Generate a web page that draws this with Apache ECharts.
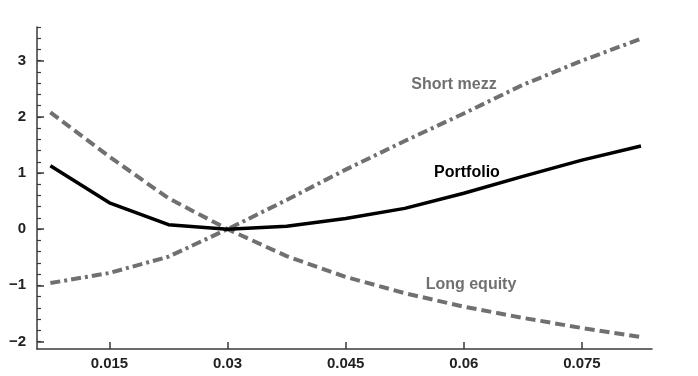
<!DOCTYPE html>
<html>
<head>
<meta charset="utf-8">
<script src="https://cdn.jsdelivr.net/npm/echarts@6/dist/echarts.min.js"></script>
<style>
  html, body { margin: 0; padding: 0; background: #fff; }
  #chart { width: 698px; height: 376px; }
</style>
</head>
<body>
<div id="chart"></div>
<script>
// spread levels on the x axis
const rates = [0.0075, 0.015, 0.0225, 0.03, 0.0375, 0.045, 0.0525, 0.06, 0.0675, 0.075, 0.0825]

const portfolio = [1.13, 0.47, 0.08, 0.0, 0.05, 0.19, 0.37, 0.64, 0.94, 1.23, 1.48]
const shortMezz = [-0.96, -0.78, -0.49, 0.0, 0.52, 1.06, 1.57, 2.06, 2.57, 3.0, 3.39]
const longEquity = [2.08, 1.29, 0.55, 0.0, -0.48, -0.85, -1.14, -1.38, -1.58, -1.76, -1.92]

const seriesNames = ['Portfolio', 'Short mezz', 'Long equity']

const xTicks = [0.015, 0.03, 0.045, 0.06, 0.075]
const yTicks = [-2, -1, 0, 1, 2, 3]
const yMinorTicks = [-2, -1.8, -1.6, -1.4, -1.2, -1, -0.8, -0.6, -0.4, -0.2, 0, 0.2, 0.4, 0.6, 0.8,
  1, 1.2, 1.4, 1.6, 1.8, 2, 2.2, 2.4, 2.6, 2.8, 3, 3.2, 3.4, 3.6]

const FONT = '"Liberation Sans", Arial, sans-serif'
const AXIS_COLOR = '#3a3a3a'
const GRAY = '#707070'

const pairs = (ys) => rates.map((x, i) => [x, ys[i]])

const chart = echarts.init(document.getElementById('chart'), null, { renderer: 'canvas' })

const option = {
  animation: false,
  backgroundColor: '#fff',
  grid: {
    left: 37, right: 46, top: 27, bottom: 27,
    containLabel: false,
    outerBoundsMode: 'none'
  },
  xAxis: {
    type: 'value',
    min: 0.0058,
    max: 0.0839,
    axisLine: { show: true, onZero: false, lineStyle: { color: AXIS_COLOR, width: 1.5 } },
    axisTick: { show: true, inside: true, length: 7, customValues: xTicks,
      lineStyle: { color: AXIS_COLOR, width: 1.5 } },
    axisLabel: { show: true, customValues: xTicks, margin: 7,
      fontFamily: FONT, fontWeight: 'bold', fontSize: 15, color: '#222',
      formatter: (v) => String(+v.toFixed(4)) },
    splitLine: { show: false }
  },
  yAxis: [
    {
      type: 'value',
      position: 'left',
      min: -2.134,
      max: 3.6,
      axisLine: { show: true, onZero: false, lineStyle: { color: AXIS_COLOR, width: 1.5 } },
      axisTick: { show: true, inside: true, length: 4, customValues: yMinorTicks,
        lineStyle: { color: AXIS_COLOR, width: 1.2 } },
      axisLabel: { show: false },
      splitLine: { show: false }
    },
    {
      type: 'value',
      position: 'left',
      min: -2.134,
      max: 3.6,
      axisLine: { show: false, onZero: false },
      axisTick: { show: true, inside: true, length: 7, customValues: yTicks,
        lineStyle: { color: AXIS_COLOR, width: 1.5 } },
      axisLabel: { show: true, customValues: yTicks, margin: 11,
        fontFamily: FONT, fontWeight: 'bold', fontSize: 15, color: '#222',
        formatter: (v) => (v < 0 ? '\u2212' + (-v) : String(v)) },
      splitLine: { show: false }
    }
  ],
  series: [
    {
      name: seriesNames[1],
      type: 'line',
      data: pairs(shortMezz),
      showSymbol: false,
      lineStyle: { color: GRAY, width: 4, type: [10, 4, 3, 4] }
    },
    {
      name: seriesNames[2],
      type: 'line',
      data: pairs(longEquity),
      showSymbol: false,
      lineStyle: { color: GRAY, width: 4, type: [10, 5] }
    },
    {
      name: seriesNames[0],
      type: 'line',
      data: pairs(portfolio),
      showSymbol: false,
      lineStyle: { color: '#000', width: 3.5 }
    }
  ],
  graphic: [
    { type: 'text', x: 454, y: 85,
      style: { text: seriesNames[1], font: 'bold 16px ' + FONT, fill: GRAY, align: 'center', verticalAlign: 'middle' } },
    { type: 'text', x: 467, y: 173,
      style: { text: seriesNames[0], font: 'bold 16px ' + FONT, fill: '#000', align: 'center', verticalAlign: 'middle' } },
    { type: 'text', x: 471, y: 285,
      style: { text: seriesNames[2], font: 'bold 16px ' + FONT, fill: GRAY, align: 'center', verticalAlign: 'middle' } }
  ]
}

chart.setOption(option)
</script>
</body>
</html>
